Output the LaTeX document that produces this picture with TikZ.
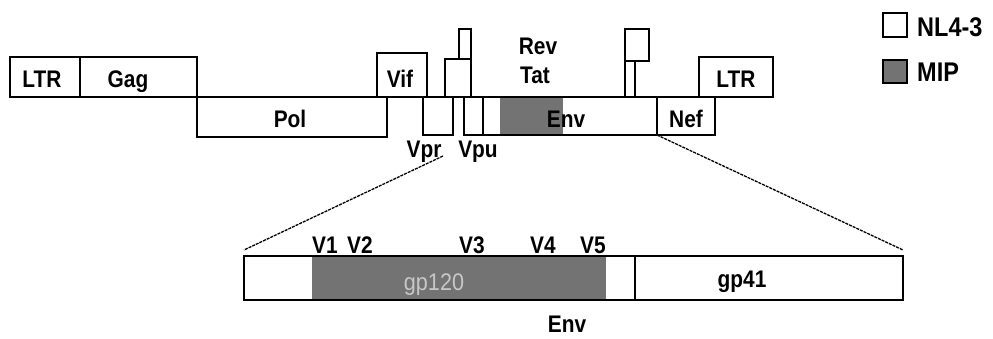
\documentclass[tikz,border=0pt]{standalone}
\usepackage{fontspec}
\setmainfont[FakeStretch=0.9]{Liberation Sans}
\newfontfamily\lblfont[FakeStretch=0.87]{Liberation Sans Bold}
\newfontfamily\legfont[FakeStretch=0.87]{Liberation Sans Bold}
\definecolor{mipgray}{RGB}{115,115,115}
\begin{document}
\begin{tikzpicture}[x=1pt,y=-1pt,
  box/.style={draw, line width=1.8pt, inner sep=0pt, outer sep=0pt, anchor=north west},
  lbl/.style={anchor=base, inner sep=0pt, font=\lblfont\fontsize{24}{28}\selectfont},
  leg/.style={anchor=base west, inner sep=0pt, font=\legfont\fontsize{27}{30}\selectfont},
  conn/.style={line width=1.3pt, dash pattern=on 3pt off 1pt}]
\useasboundingbox (0,0) rectangle (993,339);
% grey fills
\fill[mipgray] (500,97) rectangle (563,135);
\fill[mipgray] (312,256) rectangle (606,300);
% genome boxes
\node[box, minimum width=70pt, minimum height=40pt] (ltrL) at (10,57) {};
\node[box, minimum width=117pt, minimum height=40pt] (gag) at (80,57) {};
\node[box, minimum width=190pt, minimum height=40pt] (pol) at (197,97) {};
\node[box, minimum width=50pt, minimum height=44pt] (vif) at (377,53) {};
\node[box, minimum width=30pt, minimum height=38pt] (vpr) at (423,97) {};
\node[box, minimum width=26pt, minimum height=38pt] (tatA) at (445,59) {};
\node[box, minimum width=12pt, minimum height=30pt] (tatB) at (459,29) {};
\node[box, minimum width=19pt, minimum height=38pt] (vpu) at (464,97) {};
\node[box, minimum width=174pt, minimum height=38pt] (env) at (483,97) {};
\node[box, minimum width=10pt, minimum height=36pt] (revA) at (625,61) {};
\node[box, minimum width=24pt, minimum height=32pt] (revB) at (625,29) {};
\node[box, minimum width=58pt, minimum height=38pt] (nef) at (657,97) {};
\node[box, minimum width=74pt, minimum height=40pt] (ltrR) at (699,57) {};
% labels
\node[lbl] (tLTRa) at (42,88) {LTR};
\node[lbl] (tGag) at (128,88) {Gag};
\node[lbl] (tPol) at (290,128) {Pol};
\node[lbl] (tVif) at (400,88) {Vif};
\node[lbl] (tVpr) at (424,158) {Vpr};
\node[lbl] (tVpu) at (478,158) {Vpu};
\node[lbl] (tRev) at (538,55) {Rev};
\node[lbl] (tTat) at (535,84) {Tat};
\node[lbl] (tEnv) at (566,128) {Env};
\node[lbl] (tNef) at (686,128) {Nef};
\node[lbl] (tLTRb) at (736,88) {LTR};
% Env expansion
\node[box, minimum width=391pt, minimum height=44pt] (gpa) at (244,256) {};
\node[box, minimum width=268pt, minimum height=44pt] (gpb) at (635,256) {};
\node[lbl] (tV1) at (325,253) {V1};
\node[lbl] (tV2) at (360,253) {V2};
\node[lbl] (tV3) at (472,253) {V3};
\node[lbl] (tV4) at (543,253) {V4};
\node[lbl] (tV5) at (593,253) {V5};
\node[anchor=base, inner sep=0pt, font=\fontsize{24}{28}\selectfont, text=white!78!black] (tgp120) at (434,290) {gp120};
\node[lbl] (tgp41) at (742,287) {gp41};
\node[lbl] (tEnv2) at (567,332) {Env};
% connectors
\coordinate (vprtip) at (443,156);
\draw[conn] (vprtip) -- ([yshift=6pt]gpa.north west);
\draw[conn] (env.south east) -- ([yshift=6pt]gpb.north east);
% legend
\node[box, minimum width=24pt, minimum height=24pt] (lgA) at (883,13) {};
\node[box, fill=mipgray, minimum width=24pt, minimum height=23pt] (lgB) at (883,60) {};
\node[leg] (tNL) at (917,37) {NL4-3};
\node[leg] (tMIP) at (917,82) {MIP};
\end{tikzpicture}
\end{document}
